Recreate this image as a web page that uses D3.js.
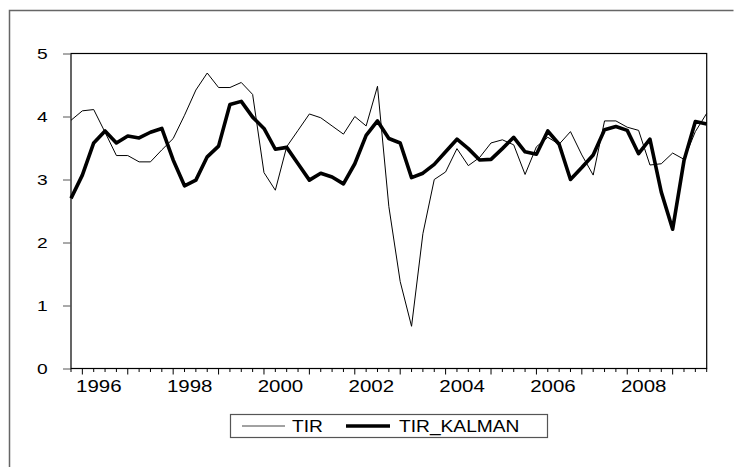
<!DOCTYPE html>
<html>
<head>
<meta charset="utf-8">
<script src="https://cdn.jsdelivr.net/npm/d3@7"></script>
<style>
  body { margin: 0; background: #fff; }
  text { font-family: "Liberation Sans", Arial, sans-serif; fill: #000; }
</style>
</head>
<body>
<script>
// quarterly observations, 1995Q4 .. 2009Q4
var startYear = 1995, startQuarter = 4;
var tir = [3.94, 4.09, 4.11, 3.75, 3.38, 3.38, 3.28, 3.28, 3.47, 3.65,
           4.02, 4.42, 4.69, 4.46, 4.46, 4.54, 4.35, 3.11, 2.83, 3.52,
           3.78, 4.04, 3.98, 3.85, 3.72, 4.00, 3.85, 4.48, 2.57, 1.38,
           0.67, 2.14, 3.00, 3.12, 3.49, 3.22, 3.35, 3.58, 3.63, 3.55,
           3.08, 3.52, 3.67, 3.56, 3.76, 3.39, 3.07, 3.93, 3.93, 3.83,
           3.78, 3.23, 3.25, 3.42, 3.32, 3.76, 4.05];
var tirKalman = [2.70, 3.07, 3.58, 3.77, 3.58, 3.69, 3.66, 3.75, 3.81, 3.31,
                 2.90, 2.99, 3.36, 3.53, 4.19, 4.24, 3.99, 3.81, 3.48, 3.51,
                 3.25, 2.99, 3.10, 3.04, 2.93, 3.25, 3.70, 3.93, 3.65, 3.58,
                 3.03, 3.10, 3.24, 3.44, 3.64, 3.49, 3.31, 3.32, 3.49, 3.67,
                 3.44, 3.40, 3.77, 3.56, 3.00, 3.19, 3.39, 3.79, 3.84, 3.78,
                 3.41, 3.64, 2.80, 2.21, 3.30, 3.92, 3.88];
var yearLabels = [1996, 1998, 2000, 2002, 2004, 2006, 2008];
var yTicks = [0, 1, 2, 3, 4, 5];
var seriesNames = ["TIR", "TIR_KALMAN"];

var width = 742, height = 467;
var plotLeft = 71, plotRight = 706.7, plotTop = 53.5, plotBottom = 368.5;
var stretch = 1.28;   // text in the picture is widened
var legendStretch = 1.2;

// time of each observation as decimal year
var t = tir.map(function (d, i) {
    return startYear + (startQuarter - 1 + i) / 4;
});

var svg = d3.select("body").append("svg")
    .attr("width", width)
    .attr("height", height);

// outer frame
svg.append("path")
    .attr("d", "M9.5," + height + "V10.5H733.5")
    .attr("fill", "none")
    .attr("stroke", "#666")
    .attr("stroke-width", 1.5);

var x = d3.scaleLinear()
    .domain([t[0], t[t.length - 1]])
    .range([plotLeft, plotRight]);
var y = d3.scaleLinear()
    .domain([0, 5])
    .range([plotBottom, plotTop]);

// plot box
svg.append("rect")
    .attr("x", plotLeft).attr("y", plotTop)
    .attr("width", plotRight - plotLeft).attr("height", plotBottom - plotTop)
    .attr("fill", "none").attr("stroke", "#000").attr("stroke-width", 1.2);

// y axis
var yAxis = d3.axisLeft(y).tickValues(yTicks).tickSize(8).tickPadding(7)
    .tickFormat(d3.format("d"));
var gy = svg.append("g").attr("transform", "translate(" + plotLeft + ",0)").call(yAxis);
gy.select(".domain").remove();
gy.selectAll(".tick line").attr("stroke", "#555");
gy.selectAll(".tick text")
    .style("font-size", "15px")
    .attr("dy", "0.36em")
    .attr("transform", function () {
        return "translate(" + (-15 * (stretch - 1)) + ",0) scale(" + stretch + ",1)";
    });

// x axis: quarterly minor ticks, yearly major ticks
var quarters = d3.range(t[0], t[t.length - 1] + 0.01, 0.25);
var gx = svg.append("g");
gx.selectAll("line")
    .data(quarters)
    .enter()
    .append("line")
    .attr("x1", function (d) { return x(d); })
    .attr("x2", function (d) { return x(d); })
    .attr("y1", plotBottom)
    .attr("y2", function (d) {
        return Math.abs(d - Math.round(d)) < 0.01 ? plotBottom + 6 : plotBottom + 3.5;
    })
    .attr("stroke", "#000")
    .attr("stroke-width", 1);

gx.selectAll("text")
    .data(yearLabels)
    .enter()
    .append("text")
    .attr("text-anchor", "middle")
    .style("font-size", "16px")
    .attr("transform", function (d) {
        return "translate(" + (x(d) + 16.5) + ",392) scale(" + stretch + ",1)";
    })
    .text(function (d) { return d; });

// series lines
var line = d3.line()
    .x(function (d, i) { return x(t[i]); })
    .y(function (d) { return y(d); });

svg.append("path")
    .datum(tir)
    .attr("d", line)
    .attr("fill", "none")
    .attr("stroke", "#000")
    .attr("stroke-width", 1)
    .attr("stroke-linejoin", "round");

svg.append("path")
    .datum(tirKalman)
    .attr("d", line)
    .attr("fill", "none")
    .attr("stroke", "#000")
    .attr("stroke-width", 3.6)
    .attr("stroke-linejoin", "round");

// legend
var legend = svg.append("g");
legend.append("rect")
    .attr("x", 230.5).attr("y", 414.5)
    .attr("width", 317).attr("height", 23)
    .attr("fill", "#fff").attr("stroke", "#555").attr("stroke-width", 1.2);
legend.append("line")
    .attr("x1", 242).attr("x2", 285).attr("y1", 426).attr("y2", 426)
    .attr("stroke", "#444").attr("stroke-width", 1);
legend.append("text")
    .style("font-size", "16px")
    .attr("transform", "translate(292,432) scale(" + legendStretch + ",1)")
    .text(seriesNames[0]);
legend.append("line")
    .attr("x1", 346).attr("x2", 390).attr("y1", 426).attr("y2", 426)
    .attr("stroke", "#000").attr("stroke-width", 3.6);
legend.append("text")
    .style("font-size", "16px")
    .attr("transform", "translate(399,432) scale(" + legendStretch + ",1)")
    .text(seriesNames[1]);
</script>
</body>
</html>
